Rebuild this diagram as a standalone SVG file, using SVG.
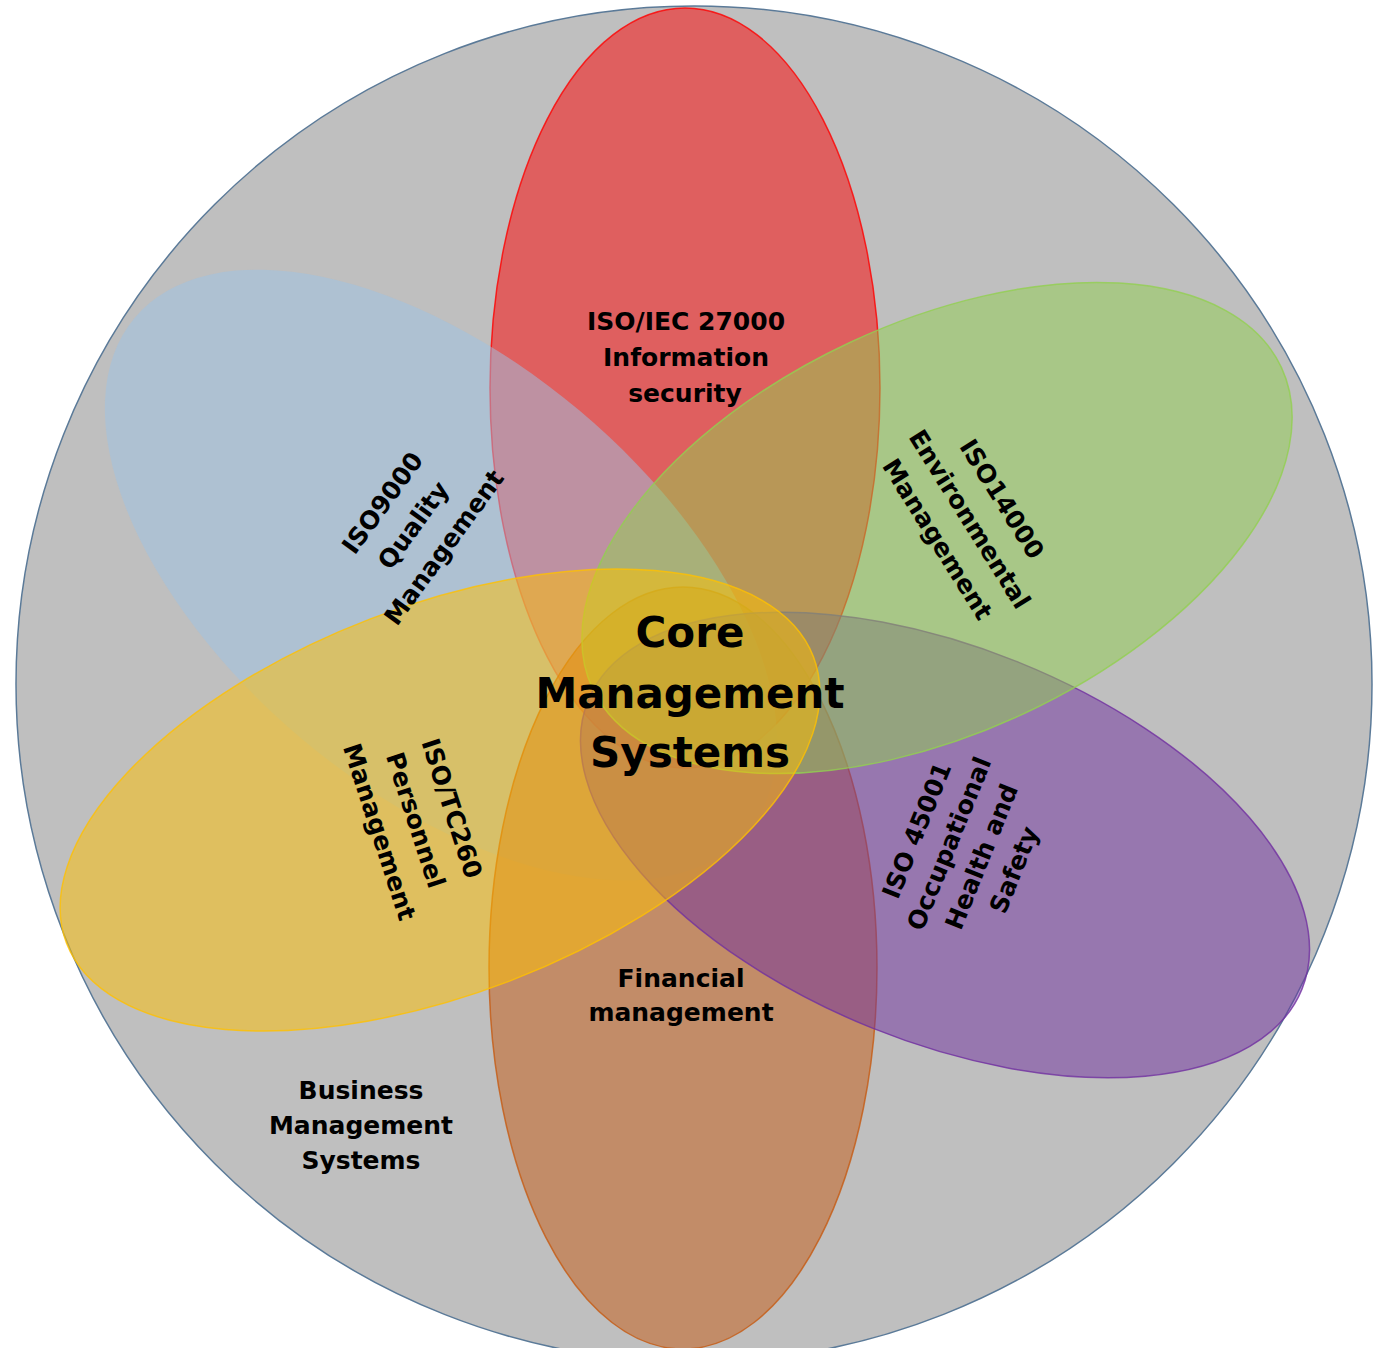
<svg xmlns="http://www.w3.org/2000/svg" width="1375" height="1348" viewBox="0 0 1375 1348">
<style>
.lbl{font-family:"DejaVu Sans","Verdana",sans-serif;font-weight:bold;font-size:25px;fill:#000;text-anchor:middle}
.core{font-family:"DejaVu Sans","Verdana",sans-serif;font-weight:bold;font-size:42px;fill:#000;text-anchor:middle}
.petal{fill-opacity:0.5;stroke-width:1.5;stroke-opacity:0.8}
</style>
<defs>
<clipPath id="inCircle"><circle cx="694" cy="684" r="676"/></clipPath>
</defs>
<rect width="1375" height="1348" fill="#ffffff"/>
<g id="node-business">
<circle cx="694" cy="684" r="678" fill="#BFBFBF" stroke="#5B7A98" stroke-width="1.5"/>
</g>
<g id="node-iso27000">
<ellipse class="petal" cx="685" cy="388" rx="195" ry="380" fill="#FF0000" stroke="#FF0000"/>
</g>
<g id="node-iso9000" clip-path="url(#inCircle)">
<ellipse cx="0" cy="0" rx="400" ry="215" transform="translate(441,575) rotate(40)" fill="#9DC3E6" fill-opacity="0.5"/>
</g>
<g id="node-financial">
<ellipse class="petal" cx="683" cy="968" rx="194" ry="381" fill="#C55A11" stroke="#C55A11"/>
</g>
<g id="node-iso45001">
<ellipse class="petal" cx="0" cy="0" rx="385" ry="197" transform="translate(945,845) rotate(22)" fill="#7030A0" stroke="#7030A0"/>
</g>
<g id="node-iso14000">
<ellipse class="petal" cx="0" cy="0" rx="380" ry="205" transform="translate(937,528) rotate(-25)" fill="#92D050" stroke="#92D050"/>
</g>
<g id="node-isotc260">
<ellipse class="petal" cx="0" cy="0" rx="400" ry="194" transform="translate(440,800) rotate(-21)" fill="#FFC000" stroke="#FFC000"/>
</g>
<g id="connectors"></g>
<g id="labels">
<g id="label-iso27000">
<text class="lbl" x="686" y="330">ISO/IEC 27000</text>
<text class="lbl" x="686" y="366">Information</text>
<text class="lbl" x="685" y="402">security</text>
</g>
<g id="label-iso9000" transform="translate(413,525) rotate(-54)">
<text class="lbl" x="0" y="-29">ISO9000</text>
<text class="lbl" x="0" y="9">Quality</text>
<text class="lbl" x="0" y="47">Management</text>
</g>
<g id="label-iso14000" transform="translate(970,519) rotate(58)">
<text class="lbl" x="0" y="-29">ISO14000</text>
<text class="lbl" x="0" y="9">Environmental</text>
<text class="lbl" x="0" y="47">Management</text>
</g>
<g id="label-isotc260" transform="translate(416,820) rotate(72)">
<text class="lbl" x="0" y="-29">ISO/TC260</text>
<text class="lbl" x="0" y="9">Personnel</text>
<text class="lbl" x="0" y="47">Management</text>
</g>
<g id="label-iso45001" transform="translate(965,850) rotate(-68)">
<text class="lbl" x="0" y="-43.5">ISO 45001</text>
<text class="lbl" x="0" y="-8.5">Occupational</text>
<text class="lbl" x="0" y="26.5">Health and</text>
<text class="lbl" x="0" y="61.5">Safety</text>
</g>
<g id="label-financial">
<text class="lbl" x="681" y="987">Financial</text>
<text class="lbl" x="681" y="1021">management</text>
</g>
<g id="label-business">
<text class="lbl" x="361" y="1099">Business</text>
<text class="lbl" x="361" y="1134">Management</text>
<text class="lbl" x="361" y="1169">Systems</text>
</g>
<g id="label-core">
<text class="core" x="690" y="647">Core</text>
<text class="core" x="690" y="708">Management</text>
<text class="core" x="690" y="767">Systems</text>
</g>
</g>
</svg>
